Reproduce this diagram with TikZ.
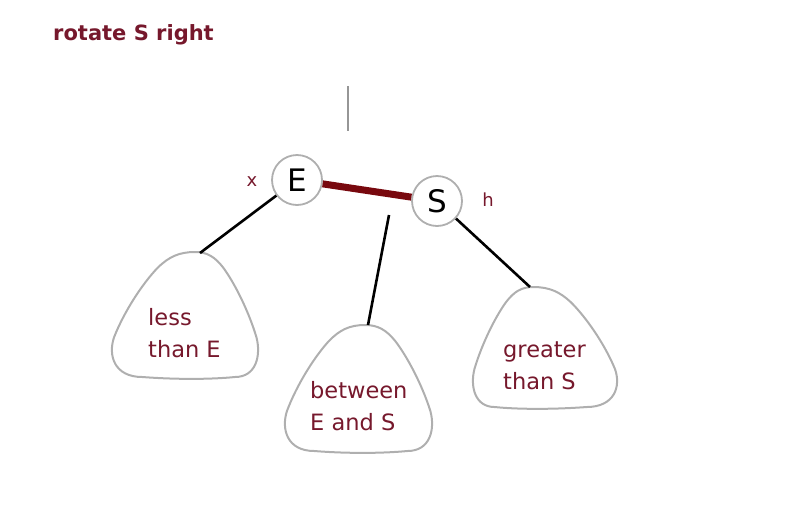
\documentclass[tikz,border=0pt]{standalone}
\usepackage{fontspec}
\setmainfont{DejaVu Sans}
\definecolor{maroon}{RGB}{118,24,44}
\definecolor{linkred}{RGB}{120,8,14}
\definecolor{edgegray}{RGB}{175,175,175}
\definecolor{stemgray}{RGB}{150,150,150}
\tikzset{
  keynode/.style={circle, draw=edgegray, line width=1.8pt, fill=white, minimum size=50pt, inner sep=0pt, font=\fontsize{31}{34}\selectfont},
  subtree/.style={draw=edgegray, line width=2pt},
  treelabel/.style={anchor=west, align=left, text=maroon, inner sep=0pt, font=\fontsize{22.5}{32}\selectfont},
  tag/.style={text=maroon, font=\fontsize{18}{19}\selectfont},
  blackedge/.style={draw=black, line width=2.6pt},
  redlink/.style={draw=linkred, line width=7pt}
}
% #1 top x, #2 top y, #3 left width, #4 right width, #5 height
\newcommand\subtreeblob[5]{%
  \begin{scope}[shift={(#1,#2)}]
  \pgfmathsetmacro\sbl{#3/82}%
  \pgfmathsetmacro\sbr{#4/82}%
  \pgfmathsetmacro\sbh{#5/127}%
  \draw[subtree] (0,0)
    .. controls (-16*\sbl,0) and (-26*\sbl,5*\sbh) .. (-37*\sbl,16*\sbh)
    .. controls (-52*\sbl,32*\sbh) and (-70*\sbl,60*\sbh) .. (-80*\sbl,86*\sbh)
    .. controls (-86*\sbl,104*\sbh) and (-80*\sbl,126*\sbh) .. (-52*\sbl,126*\sbh)
    .. controls (-20*\sbl,128.5*\sbh) and (20*\sbr,128.5*\sbh) .. (52*\sbr,126*\sbh)
    .. controls (80*\sbr,126*\sbh) and (86*\sbr,104*\sbh) .. (80*\sbr,86*\sbh)
    .. controls (70*\sbr,60*\sbh) and (52*\sbr,32*\sbh) .. (37*\sbr,16*\sbh)
    .. controls (26*\sbr,5*\sbh) and (16*\sbr,0) .. (0,0) -- cycle;
  \end{scope}}
\begin{document}
\begin{tikzpicture}[x=1pt,y=-1pt]
\useasboundingbox (0,0) rectangle (808,504);
% title
\node[anchor=west, text=maroon, inner sep=0pt, font=\bfseries\fontsize{21}{24}\selectfont] (title) at (53,35) {rotate S right};
% stem from above
\coordinate (stemtop) at (348,86);
\coordinate (stembot) at (348,131);
\draw[draw=stemgray, line width=2.6pt] (stemtop) -- (stembot);
% subtrees
\subtreeblob{195}{252}{83}{63}{126}
\coordinate (ltop) at (200,253);
\subtreeblob{365}{325}{80}{67}{127}
\coordinate (mtop) at (368,325);
\subtreeblob{533}{287}{60}{84}{121}
\coordinate (rtop) at (530,287);
\node[treelabel] (lesslabel) at (148,333) {less\\than E};
\node[treelabel] (betweenlabel) at (310,406) {between\\E and S};
\node[treelabel] (greaterlabel) at (503,366) {greater\\than S};
% nodes
\node[keynode] (E) at (297,180) {E};
\node[keynode] (S) at (437,201) {S};
\node[tag] (x) at (252,182) {x};
\node[tag] (h) at (488,200) {h};
% connectors
\coordinate (mstart) at (389,215);
\draw[blackedge] (E) -- (ltop);
\draw[blackedge] (mstart) -- (mtop);
\draw[blackedge] (S) -- (rtop);
\draw[redlink] (E) -- (S);
\end{tikzpicture}
\end{document}
